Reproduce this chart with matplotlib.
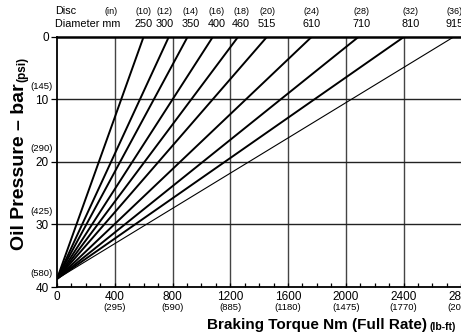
import matplotlib
matplotlib.use("Agg")
import matplotlib.pyplot as plt
from matplotlib.ticker import MultipleLocator
import matplotlib.transforms as mtransforms

# Disc sizes and the torque reached at 0 bar for each disc
disc_in = ["(10)", "(12)", "(14)", "(16)", "(18)", "(20)", "(24)", "(28)", "(32)", "(36)"]
disc_mm = ["250", "300", "350", "400", "460", "515", "610", "710", "810", "915"]
torque_end = [600, 775, 905, 1080, 1255, 1455, 1765, 2090, 2405, 2750]
start_pressure = 38.7

x_ticks = [0, 400, 800, 1200, 1600, 2000, 2400, 2800]
x_ticks_lbft = ["", "(295)", "(590)", "(885)", "(1180)", "(1475)", "(1770)", "(2065)"]
y_ticks = [0, 10, 20, 30, 40]
y_ticks_psi = ["", "(145)", "(290)", "(425)", "(580)"]

FONT = ["Liberation Sans Narrow", "Liberation Sans", "DejaVu Sans"]
plt.rcParams["font.family"] = FONT

W, H = 461, 335
fig = plt.figure(figsize=(W / 100, H / 100), dpi=100)
left, right = 57 / W, 462 / W
bottom, top = (H - 287) / H, (H - 36.7) / H
ax = fig.add_axes([left, bottom, right - left, top - bottom])

ax.set_xlim(0, 2805)
ax.set_ylim(40, 0)

# grid
for xv in x_ticks[1:-1]:
    ax.axvline(xv, color="#444444", lw=1.0, zorder=1)
for yv in y_ticks[1:-1]:
    ax.axhline(yv, color="#222222", lw=1.0, zorder=1)

# disc lines
for i, t in enumerate(torque_end):
    lw = 0.8 if i == len(torque_end) - 1 else 1.4
    ax.plot([0, t], [start_pressure, 0], color="black", lw=lw, zorder=3,
            solid_capstyle="butt")

ax.spines["right"].set_visible(False)
ax.spines["top"].set_linewidth(1.8)
ax.spines["left"].set_linewidth(1.3)
ax.spines["bottom"].set_linewidth(1.3)

ax.set_xticks(x_ticks)
ax.set_xticklabels([str(v) for v in x_ticks], fontsize=8.5)
ax.xaxis.set_minor_locator(MultipleLocator(100))
ax.tick_params(axis="x", which="both", direction="in", length=3, width=0.9, pad=3)
ax.set_yticks(y_ticks)
ax.set_yticklabels([str(v) for v in y_ticks], fontsize=8.5)
ax.tick_params(axis="y", direction="out", length=4, width=0.9, pad=2)

# secondary unit labels
bx = mtransforms.blended_transform_factory(ax.transData, ax.transAxes)
for xv, lab in zip(x_ticks, x_ticks_lbft):
    if lab:
        ax.text(xv, -0.08, lab, transform=bx, ha="center", va="center",
                fontsize=6.8, clip_on=False)
by = mtransforms.blended_transform_factory(ax.transAxes, ax.transData)
for yv, lab in zip(y_ticks, y_ticks_psi):
    if lab:
        ax.text(-0.011, yv - 2.1, lab, transform=by, ha="right", va="center",
                fontsize=6.8, clip_on=False)

# disc size header (small pixel nudges keep neighbouring labels apart)
nudge_px = [0, -4, 3, 4, 3, 0, 0, 3, 6, 1]
for t, a, b, dx in zip(torque_end, disc_in, disc_mm, nudge_px):
    tr = mtransforms.blended_transform_factory(ax.transData, fig.transFigure) + \
        mtransforms.ScaledTranslation(dx / 100, 0, fig.dpi_scale_trans)
    ax.text(t, (H - 11) / H, a, transform=tr, ha="center", va="center",
            fontsize=6.5, clip_on=False)
    ax.text(t, (H - 24) / H, b, transform=tr, ha="center", va="center",
            fontsize=7.8, clip_on=False)
fig.text(55 / W, (H - 11) / H, "Disc", ha="left", va="center", fontsize=7.8)
fig.text(104 / W, (H - 11) / H, "(in)", ha="left", va="center", fontsize=6.5)
fig.text(55 / W, (H - 24) / H, "Diameter mm", ha="left", va="center", fontsize=7.8)

# axis titles
fig.text(427 / W, (H - 325) / H, "Braking Torque Nm (Full Rate)", ha="right",
         va="center", fontsize=11, fontweight="bold")
fig.text(429 / W, (H - 327) / H, "(lb-ft)", ha="left", va="center",
         fontsize=7.5, fontweight="bold")
fig.text(20 / W, (H - 167) / H, "Oil Pressure \u2013 bar", rotation=90,
         ha="center", va="center", fontsize=14, fontweight="bold")
fig.text(22 / W, (H - 69) / H, "(psi)", rotation=90,
         ha="center", va="center", fontsize=8.5, fontweight="bold")

fig.savefig("out.png", dpi=100)
